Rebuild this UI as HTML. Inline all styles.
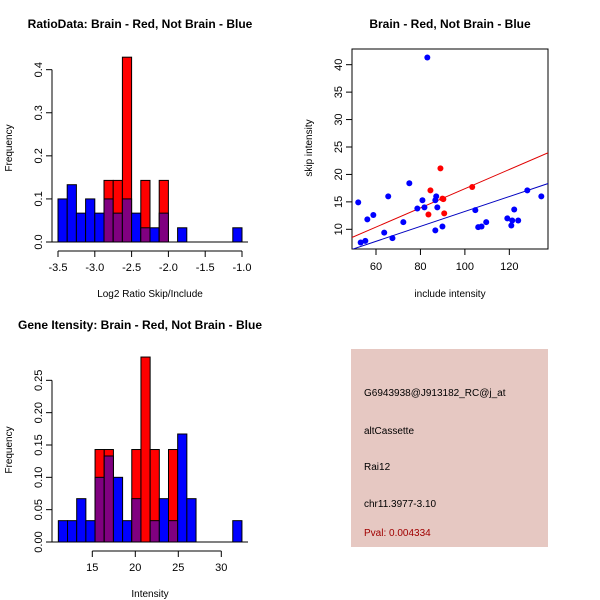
<!DOCTYPE html>
<html><head><meta charset="utf-8"><style>
body{margin:0;background:#fff}
svg{display:block;font-family:"Liberation Sans",sans-serif}
</style></head><body>
<svg id="c" width="600" height="600" viewBox="0 0 600 600">
<rect width="600" height="600" fill="#fff"/>
<text x="140" y="28" text-anchor="middle" font-size="12" font-weight="bold">RatioData: Brain - Red, Not Brain - Blue</text>
<text x="450" y="28" text-anchor="middle" font-size="12" font-weight="bold">Brain - Red, Not Brain - Blue</text>
<text x="140" y="329" text-anchor="middle" font-size="12" font-weight="bold">Gene Itensity: Brain - Red, Not Brain - Blue</text>
<text x="150" y="297" text-anchor="middle" font-size="10">Log2 Ratio Skip/Include</text>
<text transform="translate(12,148) rotate(-90)" text-anchor="middle" font-size="10">Frequency</text>
<text x="450" y="297" text-anchor="middle" font-size="10">include intensity</text>
<text transform="translate(312,148) rotate(-90)" text-anchor="middle" font-size="10">skip intensity</text>
<text x="150" y="597" text-anchor="middle" font-size="10">Intensity</text>
<text transform="translate(12,450) rotate(-90)" text-anchor="middle" font-size="10">Frequency</text>
<g>
<rect x="351" y="349" width="197" height="198" fill="#E6C8C2"/>
<text x="364" y="396" font-size="10">G6943938@J913182_RC@j_at</text>
<text x="364" y="434" font-size="10">altCassette</text>
<text x="364" y="470" font-size="10">Rai12</text>
<text x="364" y="507" font-size="10">chr11.3977-3.10</text>
<text x="364" y="536" font-size="10" fill="#A00000">Pval: 0.004334</text>
</g>
</svg>
<script>
// Ratio histogram data
const ratioBinStart = -3.5, ratioBinWidth = 0.125;
const ratioBlue = [0.1,0.133,0.067,0.1,0.067,0.1,0.067,0.1,0.067,0.033,0.033,0.067,0,0.033,0,0,0,0,0,0.033];
const ratioRed  = [0,0,0,0,0,0.143,0.143,0.429,0,0.143,0,0.143,0,0,0,0,0,0,0,0];
const ratioXTicks = [-3.5,-3.0,-2.5,-2.0,-1.5,-1.0];
const ratioYTicks = [0.0,0.1,0.2,0.3,0.4];
// Intensity histogram data
const intBinStart = 11.05, intBinWidth = 1.0675;
const intBlue = [0.033,0.033,0.067,0.033,0.1,0.133,0.1,0.033,0.067,0,0.033,0.067,0.033,0.167,0.067,0,0,0,0,0.033];
const intRed  = [0,0,0,0,0.143,0.143,0,0,0.143,0.286,0.143,0,0.143,0,0,0,0,0,0,0];
const intXTicks = [15,20,25,30];
const intYTicks = [0.00,0.05,0.10,0.15,0.20,0.25];
// Scatter data
const blueX = [52.0,53.1,55.2,56.1,58.8,63.7,65.5,67.4,72.3,75.0,78.6,80.9,81.8,83.1,86.7,87.1,86.7,87.6,89.9,104.7,106.0,107.5,109.6,119.1,120.9,121.3,122.2,124.0,128.1,134.4];
const blueY = [14.9,7.6,7.9,11.8,12.6,9.4,16.0,8.4,11.3,18.4,13.8,15.3,14.0,41.3,9.8,16.0,15.3,14.0,10.5,13.5,10.4,10.5,11.3,12.0,10.7,11.6,13.6,11.6,17.1,16.0];
const redX = [84.5,89.0,89.9,90.3,83.6,90.7,103.3];
const redY = [17.1,21.1,15.6,15.5,12.7,12.9,17.7];
const redFit = [-0.1,0.175];   // intercept, slope
const blueFit = [-0.35,0.136];
const scatXTicks = [60,80,100,120];
const scatYTicks = [10,15,20,25,30,35,40];

const NS="http://www.w3.org/2000/svg", svg=document.getElementById('c');
function mk(tag,attrs){const e=document.createElementNS(NS,tag);for(const k in attrs)e.setAttribute(k,attrs[k]);svg.appendChild(e);return e;}

function hist(prefix,bs,bw,blue,red,xs,ys,xt,yt,axisY,yfmt){
  const n=blue.length;
  for(let i=0;i<n;i++){
    const x0=xs(bs+i*bw), x1=xs(bs+(i+1)*bw);
    const b=blue[i], r=red[i], lo=Math.min(b,r), hi=Math.max(b,r);
    if(hi>0){
      const e=mk('rect',{x:x0,y:ys(hi),width:x1-x0,height:ys(0)-ys(hi),fill:r>b?'#FF0000':'#0000FF',stroke:'#000','stroke-width':1});
      
      
    }
    if(lo>0){
      const e=mk('rect',{x:x0,y:ys(lo),width:x1-x0,height:ys(0)-ys(lo),fill:'#800080',stroke:'#000','stroke-width':1});
      
      
    }
  }
  const yl=mk('line',{x1:52,x2:52,y1:ys(yt[0]),y2:ys(yt[yt.length-1]),stroke:'#000'});
  
  
  yt.forEach(v=>{
    mk('line',{x1:46,x2:52,y1:ys(v),y2:ys(v),stroke:'#000'});
    const t=mk('text',{transform:`translate(42,${ys(v)}) rotate(-90)`,'text-anchor':'middle','font-size':11});
    t.textContent=v.toFixed(yfmt);
    
    
  });
  const xl=mk('line',{x1:xs(xt[0]),x2:xs(xt[xt.length-1]),y1:axisY,y2:axisY,stroke:'#000'});
  
  
  xt.forEach(v=>{
    mk('line',{x1:xs(v),x2:xs(v),y1:axisY,y2:axisY+6,stroke:'#000'});
    const t=mk('text',{x:xs(v),y:axisY+20,'text-anchor':'middle','font-size':11});
    t.textContent=(prefix==='ratio')?v.toFixed(1):String(v);
    
    
  });
  const bl=mk('line',{x1:46,x2:248,y1:ys(0),y2:ys(0),stroke:'#000'});
  
  
}
hist('ratio',ratioBinStart,ratioBinWidth,ratioBlue,ratioRed,v=>58+(v+3.5)*73.6,v=>242-v*430.8,ratioXTicks,ratioYTicks,251,1);
hist('intensity',intBinStart,intBinWidth,intBlue,intRed,v=>92.3+(v-15)*8.6,v=>542-v*646.7,intXTicks,intYTicks,551,2);

// scatter
const sx=v=>376+(v-60)*2.222, sy=v=>229.3-(v-10)*5.487;
const box=mk('rect',{x:352,y:49,width:196,height:200,fill:'none',stroke:'#000'});


const clip=document.createElementNS(NS,'clipPath');clip.id='sc';
const cr=document.createElementNS(NS,'rect');cr.setAttribute('x',352);cr.setAttribute('y',49);cr.setAttribute('width',196);cr.setAttribute('height',200);
clip.appendChild(cr);svg.appendChild(clip);
[[redFit,'#E00000','red-fit-line'],[blueFit,'#0000C0','blue-fit-line']].forEach(([f,c,n])=>{
  const x0=40,x1=150;
  const l=mk('line',{x1:sx(x0),y1:sy(f[0]+f[1]*x0),x2:sx(x1),y2:sy(f[0]+f[1]*x1),stroke:c,'clip-path':'url(#sc)'});
  
  
});
blueX.forEach((v,i)=>{
  const p=mk('circle',{cx:sx(v),cy:sy(blueY[i]),r:3,fill:'#0000FF'});
  
  
});
redX.forEach((v,i)=>{
  const p=mk('circle',{cx:sx(v),cy:sy(redY[i]),r:3,fill:'#FF0000'});
  
  
});
scatXTicks.forEach(v=>{
  mk('line',{x1:sx(v),x2:sx(v),y1:249,y2:255,stroke:'#000'});
  const t=mk('text',{x:sx(v),y:270,'text-anchor':'middle','font-size':11});
  t.textContent=v;
  
  
});
scatYTicks.forEach(v=>{
  mk('line',{x1:346,x2:352,y1:sy(v),y2:sy(v),stroke:'#000'});
  const t=mk('text',{transform:`translate(342,${sy(v)}) rotate(-90)`,'text-anchor':'middle','font-size':11});
  t.textContent=v;
  
  
});
</script>
</body></html>
